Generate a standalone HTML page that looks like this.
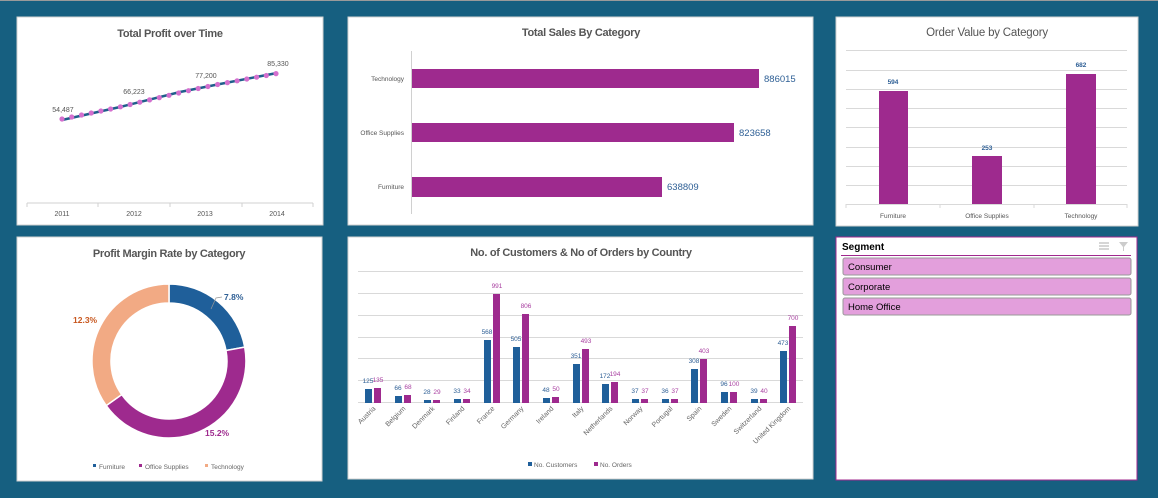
<!DOCTYPE html>
<html><head><meta charset="utf-8"><style>
html,body{margin:0;padding:0;background:#165f80;width:1158px;height:498px;overflow:hidden;font-family:"Liberation Sans",sans-serif}
svg{position:absolute;left:0;top:0}
</style></head><body>
<svg width="1158" height="498" xmlns="http://www.w3.org/2000/svg" font-family="Liberation Sans, sans-serif">
<rect x="0" y="0" width="1158" height="498" fill="#165f80"/>
<rect x="0" y="0" width="1158" height="1" fill="#9a9a9a"/>
<!-- panels -->
<rect x="17" y="17" width="306" height="208" fill="#fff" stroke="#d0d0d0"/>
<rect x="348" y="17" width="465" height="208" fill="#fff" stroke="#d0d0d0"/>
<rect x="836" y="17" width="302" height="209" fill="#fff" stroke="#d0d0d0"/>
<rect x="17" y="237" width="305" height="244" fill="#fff" stroke="#d0d0d0"/>
<rect x="348" y="237" width="465" height="242" fill="#fff" stroke="#d0d0d0"/>
<rect x="836" y="237" width="301" height="243" fill="#fff" stroke="#a0288e" stroke-width="1"/>

<!-- Total Profit over Time -->
<text x="170" y="37" text-anchor="middle" font-size="11" letter-spacing="-0.3" font-weight="bold" fill="#555">Total Profit over Time</text>
<line x1="27" y1="203" x2="313" y2="203" stroke="#d0d0d0"/>
<g stroke="#d0d0d0"><line x1="27" y1="203" x2="27" y2="207"/><line x1="98" y1="203" x2="98" y2="207"/><line x1="170" y1="203" x2="170" y2="207"/><line x1="242" y1="203" x2="242" y2="207"/><line x1="313" y1="203" x2="313" y2="207"/></g>
<g font-size="7" fill="#555" text-anchor="middle"><text x="62" y="216">2011</text><text x="134" y="216">2012</text><text x="205" y="216">2013</text><text x="277" y="216">2014</text></g>
<polyline points="62,120 120,107 180,92 220,84 277,73" fill="none" stroke="#1f5f8b" stroke-width="2.5"/>
<g fill="#d46fce">
<circle cx="62" cy="119" r="2.6"/><circle cx="71.7" cy="117" r="2.6"/><circle cx="81.5" cy="115" r="2.6"/><circle cx="91.2" cy="113" r="2.6"/><circle cx="100.9" cy="111" r="2.6"/><circle cx="110.6" cy="109" r="2.6"/><circle cx="120.4" cy="106.8" r="2.6"/><circle cx="130.1" cy="104.5" r="2.6"/><circle cx="139.8" cy="102.2" r="2.6"/><circle cx="149.6" cy="99.9" r="2.6"/><circle cx="159.3" cy="97.6" r="2.6"/><circle cx="169" cy="95.3" r="2.6"/><circle cx="178.7" cy="93" r="2.6"/><circle cx="188.5" cy="90.7" r="2.6"/><circle cx="198.2" cy="88.5" r="2.6"/><circle cx="207.9" cy="86.5" r="2.6"/><circle cx="217.6" cy="84.5" r="2.6"/><circle cx="227.4" cy="82.6" r="2.6"/><circle cx="237.1" cy="80.8" r="2.6"/><circle cx="246.8" cy="79" r="2.6"/><circle cx="256.6" cy="77.2" r="2.6"/><circle cx="266.3" cy="75.5" r="2.6"/><circle cx="276" cy="73.6" r="2.6"/>
</g>
<g font-size="7" fill="#555" text-anchor="middle"><text x="63" y="112">54,487</text><text x="134" y="94">66,223</text><text x="206" y="78">77,200</text><text x="278" y="66">85,330</text></g>

<!-- Total Sales by Category -->
<text x="581" y="36" text-anchor="middle" font-size="11" letter-spacing="-0.3" font-weight="bold" fill="#555">Total Sales By Category</text>
<line x1="411.5" y1="51" x2="411.5" y2="214" stroke="#d0d0d0"/>
<rect x="412" y="69" width="347" height="19" fill="#9e2a8e"/>
<rect x="412" y="123" width="322" height="19" fill="#9e2a8e"/>
<rect x="412" y="177" width="250" height="20" fill="#9e2a8e"/>
<g font-size="6.5" fill="#555" text-anchor="end"><text x="404" y="81">Technology</text><text x="404" y="135">Office Supplies</text><text x="404" y="189">Furniture</text></g>
<g font-size="9.5" fill="#2e5f95"><text x="764" y="82">886015</text><text x="739" y="136">823658</text><text x="667" y="190">638809</text></g>

<!-- Order Value by Category -->
<text x="987" y="36" text-anchor="middle" font-size="11.5" letter-spacing="-0.2" fill="#555">Order Value by  Category</text>
<g stroke="#d9d9d9"><line x1="846" y1="50.5" x2="1127" y2="50.5"/><line x1="846" y1="70.5" x2="1127" y2="70.5"/><line x1="846" y1="89.5" x2="1127" y2="89.5"/><line x1="846" y1="108.5" x2="1127" y2="108.5"/><line x1="846" y1="127.5" x2="1127" y2="127.5"/><line x1="846" y1="147.5" x2="1127" y2="147.5"/><line x1="846" y1="166.5" x2="1127" y2="166.5"/><line x1="846" y1="185.5" x2="1127" y2="185.5"/><line x1="846" y1="204.5" x2="1127" y2="204.5"/>
<line x1="846" y1="204" x2="846" y2="208"/><line x1="940" y1="204" x2="940" y2="208"/><line x1="1034" y1="204" x2="1034" y2="208"/><line x1="1127" y1="204" x2="1127" y2="208"/></g>
<rect x="879" y="91" width="29" height="113" fill="#9e2a8e"/>
<rect x="972" y="156" width="30" height="48" fill="#9e2a8e"/>
<rect x="1066" y="74" width="30" height="130" fill="#9e2a8e"/>
<g font-size="6.5" font-weight="bold" fill="#2e5f95" text-anchor="middle"><text x="893" y="84">594</text><text x="987" y="150">253</text><text x="1081" y="67">682</text></g>
<g font-size="6.5" fill="#555" text-anchor="middle"><text x="893" y="218">Furniture</text><text x="987" y="218">Office Supplies</text><text x="1081" y="218">Technology</text></g>

<!-- Profit Margin Rate donut -->
<text x="169" y="257" text-anchor="middle" font-size="11" letter-spacing="-0.3" font-weight="bold" fill="#555">Profit Margin Rate by Category</text>
<g stroke="#fff" stroke-width="1.5">
<path d="M169,284 A77,77 0 0 1 244.7,347.1 L226,350.5 A58,58 0 0 0 169,303 Z" fill="#1f5f9a"/>
<path d="M244.7,347.1 A77,77 0 0 1 106.2,405.6 L121.7,394.6 A58,58 0 0 0 226,350.5 Z" fill="#9e2a8e"/>
<path d="M106.2,405.6 A77,77 0 0 1 169,284 L169,303 A58,58 0 0 0 121.7,394.6 Z" fill="#f2aa84"/>
</g>
<polyline points="211,309 216,298 222,297" fill="none" stroke="#999" stroke-width="0.7"/>
<text x="224" y="300" font-size="8.5" font-weight="bold" fill="#2e5f95">7.8%</text>
<text x="73" y="323" font-size="8.5" font-weight="bold" fill="#c8571e">12.3%</text>
<text x="205" y="436" font-size="8.5" font-weight="bold" fill="#9e2a8e">15.2%</text>
<g font-size="6.5" fill="#666"><rect x="93" y="464" width="3" height="3" fill="#1f5f9a"/><text x="99" y="469">Furniture</text>
<rect x="139" y="464" width="3" height="3" fill="#9e2a8e"/><text x="145" y="469">Office Supplies</text>
<rect x="205" y="464" width="3" height="3" fill="#f2aa84"/><text x="211" y="469">Technology</text></g>

<!-- Customers & Orders -->
<text x="581" y="256" text-anchor="middle" font-size="11" letter-spacing="-0.3" font-weight="bold" fill="#555">No. of Customers &amp; No of Orders by Country</text>
<g stroke="#d9d9d9"><line x1="358" y1="271.5" x2="803" y2="271.5"/><line x1="358" y1="293.5" x2="803" y2="293.5"/><line x1="358" y1="315.5" x2="803" y2="315.5"/><line x1="358" y1="337.5" x2="803" y2="337.5"/><line x1="358" y1="358.5" x2="803" y2="358.5"/><line x1="358" y1="380.5" x2="803" y2="380.5"/><line x1="358" y1="402.5" x2="803" y2="402.5"/></g>
<g fill="#1f5f9a">
<rect x="365" y="389" width="7" height="14"/><rect x="395" y="396" width="7" height="7"/><rect x="424" y="400" width="7" height="3"/><rect x="454" y="399" width="7" height="4"/><rect x="484" y="340" width="7" height="63"/><rect x="513" y="347" width="7" height="56"/><rect x="543" y="398" width="7" height="5"/><rect x="573" y="364" width="7" height="39"/><rect x="602" y="384" width="7" height="19"/><rect x="632" y="399" width="7" height="4"/><rect x="662" y="399" width="7" height="4"/><rect x="691" y="369" width="7" height="34"/><rect x="721" y="392" width="7" height="11"/><rect x="751" y="399" width="7" height="4"/><rect x="780" y="351" width="7" height="52"/>
</g>
<g fill="#9e2a8e">
<rect x="374" y="388" width="7" height="15"/><rect x="404" y="395" width="7" height="8"/><rect x="433" y="400" width="7" height="3"/><rect x="463" y="399" width="7" height="4"/><rect x="493" y="294" width="7" height="109"/><rect x="522" y="314" width="7" height="89"/><rect x="552" y="397" width="7" height="6"/><rect x="582" y="349" width="7" height="54"/><rect x="611" y="382" width="7" height="21"/><rect x="641" y="399" width="7" height="4"/><rect x="671" y="399" width="7" height="4"/><rect x="700" y="359" width="7" height="44"/><rect x="730" y="392" width="7" height="11"/><rect x="760" y="399" width="7" height="4"/><rect x="789" y="326" width="7" height="77"/>
</g>
<g font-size="6.5" text-anchor="middle" fill="#2e5f95">
<text x="368" y="383">125</text><text x="398" y="390">66</text><text x="427" y="394">28</text><text x="457" y="393">33</text><text x="487" y="334">568</text><text x="516" y="341">505</text><text x="546" y="392">48</text><text x="576" y="358">351</text><text x="605" y="378">172</text><text x="635" y="393">37</text><text x="665" y="393">36</text><text x="694" y="363">308</text><text x="724" y="386">96</text><text x="754" y="393">39</text><text x="783" y="345">473</text>
</g>
<g font-size="6.5" text-anchor="middle" fill="#a83fa0">
<text x="378" y="382">135</text><text x="408" y="389">68</text><text x="437" y="394">29</text><text x="467" y="393">34</text><text x="497" y="288">991</text><text x="526" y="308">806</text><text x="556" y="391">50</text><text x="586" y="343">493</text><text x="615" y="376">194</text><text x="645" y="393">37</text><text x="675" y="393">37</text><text x="704" y="353">403</text><text x="734" y="386">100</text><text x="764" y="393">40</text><text x="793" y="320">700</text>
</g>
<g font-size="7" fill="#666" text-anchor="end">
<text transform="translate(376,409) rotate(-45)">Austria</text>
<text transform="translate(406,409) rotate(-45)">Belgium</text>
<text transform="translate(435,409) rotate(-45)">Denmark</text>
<text transform="translate(465,409) rotate(-45)">Finland</text>
<text transform="translate(495,409) rotate(-45)">France</text>
<text transform="translate(524,409) rotate(-45)">Germany</text>
<text transform="translate(554,409) rotate(-45)">Ireland</text>
<text transform="translate(584,409) rotate(-45)">Italy</text>
<text transform="translate(613,409) rotate(-45)">Netherlands</text>
<text transform="translate(643,409) rotate(-45)">Norway</text>
<text transform="translate(673,409) rotate(-45)">Portugal</text>
<text transform="translate(702,409) rotate(-45)">Spain</text>
<text transform="translate(732,409) rotate(-45)">Sweden</text>
<text transform="translate(762,409) rotate(-45)">Switzerland</text>
<text transform="translate(791,409) rotate(-45)">United Kingdom</text>
</g>
<g font-size="6.5" fill="#666"><rect x="528" y="462" width="4" height="4" fill="#1f5f9a"/><text x="534" y="467">No. Customers</text>
<rect x="594" y="462" width="4" height="4" fill="#9e2a8e"/><text x="600" y="467">No. Orders</text></g>

<!-- Slicer -->
<text x="842" y="250" font-size="10" font-weight="bold" fill="#000">Segment</text>
<g stroke="#999" stroke-width="0.8"><line x1="1099" y1="243" x2="1109" y2="243"/><line x1="1099" y1="246" x2="1109" y2="246"/><line x1="1099" y1="249" x2="1109" y2="249"/></g>
<path d="M1119,242 L1128,242 L1124,247 L1124,251 L1123,251 L1123,247 Z" fill="#ccc"/>
<line x1="841" y1="255.5" x2="1131" y2="255.5" stroke="#a0288e" stroke-width="1"/>
<g fill="#e39fdc" stroke="#999" stroke-width="1">
<rect x="843" y="258" width="288" height="17" rx="2"/>
<rect x="843" y="278" width="288" height="17" rx="2"/>
<rect x="843" y="298" width="288" height="17" rx="2"/>
</g>
<g font-size="9.5" fill="#000"><text x="848" y="270">Consumer</text><text x="848" y="290">Corporate</text><text x="848" y="310">Home Office</text></g>
</svg>
</body></html>
